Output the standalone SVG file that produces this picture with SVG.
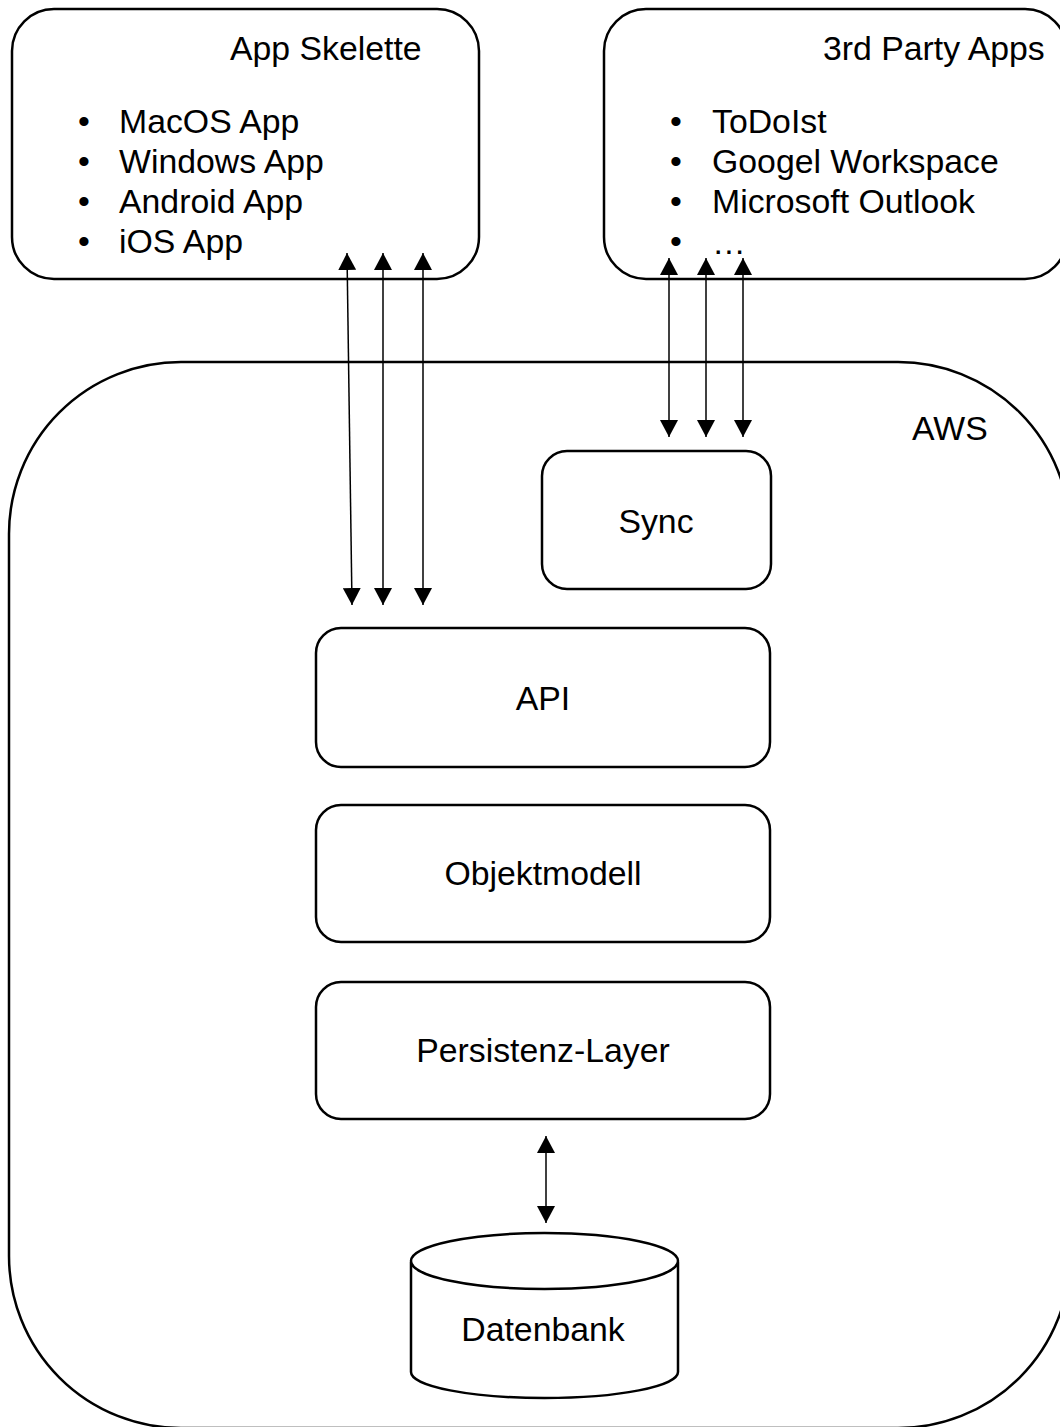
<svg xmlns="http://www.w3.org/2000/svg" width="1060" height="1427" viewBox="0 0 1060 1427">
<style>
.box{fill:#fff;stroke:#000;stroke-width:2.5}
.t{font-family:"Liberation Sans",Arial,sans-serif;font-size:33.8px;fill:#000}
.c{text-anchor:middle}
.con{stroke:#000;stroke-width:1.5;fill:none;marker-start:url(#ah);marker-end:url(#ah)}
</style>
<defs>
<marker id="ah" viewBox="0 0 17 18" refX="17" refY="9" markerWidth="17" markerHeight="18" markerUnits="userSpaceOnUse" orient="auto-start-reverse">
<path d="M0,0 L17,9 L0,18 z" fill="#000"/>
</marker>
</defs>
<rect width="1060" height="1427" fill="#fff"/>
<g id="aws">
<rect class="box" x="9" y="362" width="1061" height="1066" rx="172" ry="172"/>
<text class="t" x="912" y="440">AWS</text>
</g>
<g id="app-skelette">
<rect class="box" x="12" y="9" width="467" height="270" rx="42"/>
<text class="t" x="230" y="60">App Skelette</text>
<text class="t" x="78" y="133">•</text><text class="t" x="119" y="133">MacOS App</text>
<text class="t" x="78" y="173">•</text><text class="t" x="119" y="173">Windows App</text>
<text class="t" x="78" y="213">•</text><text class="t" x="119" y="213">Android App</text>
<text class="t" x="78" y="253">•</text><text class="t" x="119" y="253">iOS App</text>
</g>
<g id="third-party">
<rect class="box" x="604" y="9" width="463" height="270" rx="42"/>
<text class="t" x="823" y="60">3rd Party Apps</text>
<text class="t" x="670" y="133">•</text><text class="t" x="712" y="133">ToDoIst</text>
<text class="t" x="670" y="173">•</text><text class="t" x="712" y="173">Googel Workspace</text>
<text class="t" x="670" y="213">•</text><text class="t" x="712" y="213">Microsoft Outlook</text>
<text class="t" x="670" y="253">•</text><text class="t" x="712" y="254">…</text>
</g>
<g id="sync">
<rect class="box" x="542" y="451" width="229" height="138" rx="25"/>
<text class="t c" x="656" y="533">Sync</text>
</g>
<g id="api">
<rect class="box" x="316" y="628" width="454" height="139" rx="25"/>
<text class="t c" x="543" y="710">API</text>
</g>
<g id="objektmodell">
<rect class="box" x="316" y="805" width="454" height="137" rx="25"/>
<text class="t c" x="543" y="885">Objektmodell</text>
</g>
<g id="persistenz">
<rect class="box" x="316" y="982" width="454" height="137" rx="25"/>
<text class="t c" x="543" y="1062">Persistenz-Layer</text>
</g>
<g id="datenbank">
<path class="box" d="M411,1262 L411,1372 A133.5,26 0 0 0 678,1372 L678,1262"/>
<ellipse class="box" cx="544.5" cy="1261" rx="133.5" ry="28"/>
<text class="t c" x="543" y="1341">Datenbank</text>
</g>
<g id="connectors">
<line class="con" x1="347" y1="253" x2="352" y2="605"/>
<line class="con" x1="383" y1="253" x2="383" y2="605"/>
<line class="con" x1="423" y1="253" x2="423" y2="605"/>
<line class="con" x1="669" y1="258" x2="669" y2="437"/>
<line class="con" x1="706" y1="258" x2="706" y2="437"/>
<line class="con" x1="743" y1="258" x2="743" y2="437"/>
<line class="con" x1="546" y1="1136" x2="546" y2="1223"/>
</g>
</svg>
